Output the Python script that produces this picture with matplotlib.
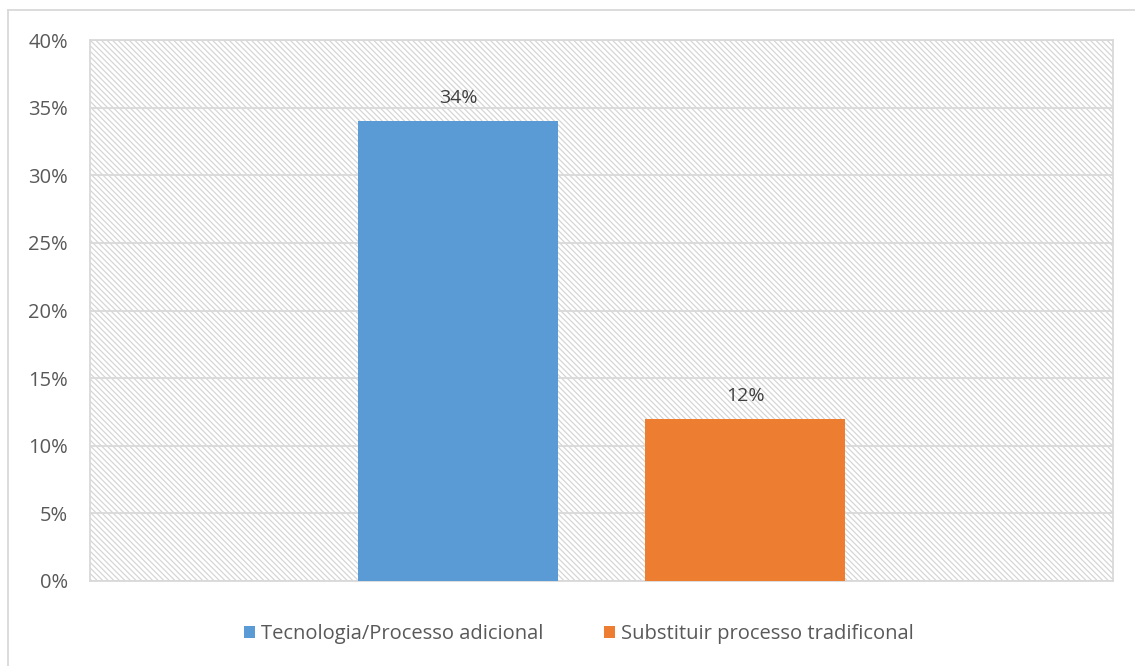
import matplotlib.pyplot as plt
from matplotlib.patches import Rectangle
from matplotlib.lines import Line2D
from matplotlib.ticker import FuncFormatter

series = ["Tecnologia/Processo adicional", "Substituir processo tradificonal"]
values = [34, 12]
colors = ["#5B9BD5", "#ED7D31"]
yticks = [0, 5, 10, 15, 20, 25, 30, 35, 40]

plt.rcParams["font.family"] = ["Open Sans", "DejaVu Sans"]
plt.rcParams["hatch.linewidth"] = 0.9
plt.rcParams["hatch.color"] = "#D6D6D6"

fig = plt.figure(figsize=(11.35, 6.66), dpi=100)
ax = fig.add_axes([90 / 1135, 85 / 666, 1023 / 1135, 541 / 666])

# hatched plot area background
ax.add_patch(Rectangle((0, 0), 1, 1, transform=ax.transAxes, facecolor="white",
                       hatch="\\\\\\\\\\\\", edgecolor="#D6D6D6", linewidth=0, zorder=0))

offsets = [-0.1403, 0.1403]
width = 0.1955
for name, v, c, off in zip(series, values, colors, offsets):
    ax.bar(off, v, width=width, color=c, label=name, zorder=3)
    ax.annotate(f"{v}%", (off, v), xytext=(0, 10), textcoords="offset points",
                ha="center", va="bottom", fontsize=14, color="#404040", zorder=4)

ax.set_xlim(-0.5, 0.5)
ax.set_ylim(0, 40)
ax.set_yticks(yticks)
ax.yaxis.set_major_formatter(FuncFormatter(lambda v, p: f"{v:.0f}%"))
ax.set_xticks([])
ax.tick_params(axis="y", length=0, pad=16, labelsize=14.5, labelcolor="#595959")
ax.grid(axis="y", color="#D9D9D9", linewidth=1.3, zorder=1)
ax.set_axisbelow(True)
for s in ax.spines.values():
    s.set_color("#D9D9D9")
    s.set_linewidth(1.3)

leg = fig.legend(loc="center", bbox_to_anchor=(579 / 1135, 32 / 666), ncol=2, frameon=False,
                 fontsize=14.5, handlelength=0.55, handleheight=0.55, handletextpad=0.3,
                 columnspacing=3.0, labelcolor="#595959")

# outer chart border (left and top visible)
fig.add_artist(Line2D([8 / 1135, 8 / 1135], [0, 1 - 10 / 666], transform=fig.transFigure,
                      color="#D9D9D9", linewidth=1.3))
fig.add_artist(Line2D([8 / 1135, 1], [1 - 10 / 666, 1 - 10 / 666], transform=fig.transFigure,
                      color="#D9D9D9", linewidth=1.3))

fig.savefig("out.png", dpi=100)
